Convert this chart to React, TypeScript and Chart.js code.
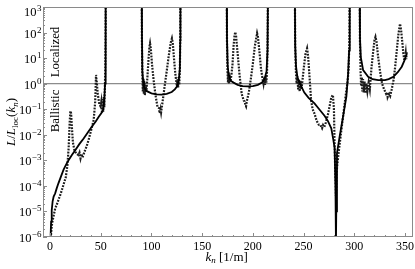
import React, { useEffect, useRef } from 'react';
import { Chart, registerables } from 'chart.js';
Chart.register(...registerables);

const X_MIN = -7;
const X_MAX = 358;
const Y_MIN = 1e-6;
const Y_MAX = 1e3;
const xTickValues = [0, 50, 100, 150, 200, 250, 300, 350];
const yTickExponents = [-6, -5, -4, -3, -2, -1, 0, 1, 2, 3];
const referenceLevel = 1;

// Solid curve: k_n [1/m] and L/L_loc (null = off-scale gap)
const kSolid = [
  0.3, 0.6, 1.0, 1.6, 2.5, 3.5, 5, 6.5, 8.2, 10.5, 13.2, 15.5, 18.2, 21.5, 24.8, 29, 33.1, 37, 41.3, 45, 48, 50.5, 52.3, 53.5, 54.2, 54.6, 54.8, 55.0,
  72,
  90.3, 90.6, 91, 91.8, 92.6, 95, 100, 105, 110, 115, 120, 123, 125.5, 127, 128, 128.4, 128.6,
  150,
  174.2, 174.5, 175.2, 176, 178, 181, 185, 190, 195, 200, 205, 209, 211.5, 213.5, 214.5, 215,
  228,
  241.4, 241.8, 242.6, 244, 245.9, 248, 250.8, 255, 260.8, 265.5, 270.7, 274, 277.4, 279.5, 280.7, 281.5, 282, 282.3, 283, 285.6, 289, 292.3, 294, 295, 295.6,
  300,
  305.3, 305.7, 306.5, 308.8, 313.8, 318, 323.7, 330.3, 334, 338.6, 343, 346.9, 349.5, 351.8,
];
const lSolid = [
  5e-7, 1.4e-6, 4e-6, 1.1e-5, 2.5e-5, 3.8e-5, 5.1e-5, 8e-5, 1.26e-4, 2.2e-4, 4.2e-4, 6.5e-4, 1e-3, 1.6e-3, 2.5e-3, 4.4e-3, 7.2e-3, 1.2e-2, 2.1e-2, 3.3e-2, 5.1e-2, 7e-2, 9.3e-2, 0.25, 1, 10, 200, 1e4,
  null,
  1e4, 100, 3.2, 1.3, 0.74, 0.52, 0.42, 0.38, 0.37, 0.4, 0.47, 0.6, 0.8, 1.4, 4, 50, 1e4,
  null,
  1e4, 60, 5, 2.5, 1.3, 1.1, 0.9, 0.8, 0.78, 0.8, 0.9, 1.1, 1.5, 3, 20, 1e4,
  null,
  1e4, 30, 4.7, 1.8, 1.1, 0.75, 0.45, 0.28, 0.17, 0.1, 0.056, 0.035, 0.018, 6e-3, 3e-3, 1e-4, 5e-7, 1e-5, 1.9e-3, 8.5e-3, 5.1e-2, 0.32, 2.5, 20, 1e4,
  null,
  1e4, 60, 11, 3.4, 1.86, 1.5, 1.38, 1.38, 1.5, 1.86, 2.8, 4.6, 8, 15,
];

// Dotted curve
const kDotted = [
  0.3, 1.0, 2.0, 3.3, 5, 6.5, 8.2, 10.5, 13.2, 15.5, 17, 18.3, 19.3, 20, 20.7, 21.5, 22.5, 24, 26, 28, 29, 30, 31, 32, 34, 36, 38, 40.5, 43, 44.5, 45.3, 46, 47, 48.5, 49.7, 50.5, 51.2, 51.8, 52.4, 53, 53.5, 54, 54.5, 54.8, 55,
  72,
  90.3, 90.6, 91, 91.5, 92, 92.5, 93, 93.5, 94.2, 95, 96, 97, 98, 98.6, 99.3, 100.5, 102, 104, 106, 107.5, 108, 108.5, 109, 109.5, 111, 113, 115, 117, 119, 120.2, 121, 122.2, 123.5, 124.5, 125.1, 125.7, 126.3, 126.8, 127.4, 128, 128.4, 128.6,
  150,
  174.2, 174.5, 175, 175.5, 176, 176.6, 177.3, 178, 179, 180, 181, 182, 182.7, 183.5, 185, 187, 189, 191, 192, 192.6, 193.3, 194, 196, 198, 200, 202, 204.2, 205, 206.5, 208, 209.5, 210.5, 211.3, 212, 212.7, 213.3, 214, 214.5, 215,
  228,
  241.4, 241.8, 242.5, 243.2, 244, 244.7, 245.4, 246.2, 247, 248, 249.3, 250.5, 252, 253.5, 254.5, 255.7, 257.5, 259, 260.8, 263, 265, 266.5, 267.4, 268.3, 269.3, 270.5, 272, 274, 276, 277.5, 279, 280, 280.7, 281.5, 282, 282.6, 283.2, 284.2, 285.7, 287.3, 289, 290.6, 292, 293.5, 294.5, 295.2, 295.6,
  300,
  305.3, 305.7, 306.3, 306.8, 307.4, 308, 308.7, 309.4, 310.2, 311, 312, 313, 314.2, 315.4, 317, 318.5, 320, 321, 322, 323.5, 325.5, 327.5, 329.5, 331.5, 332.5, 333, 333.7, 334.5, 335.5, 337, 339, 340.5, 342, 343.5, 345.2, 346.3, 347.5, 348.5, 349.5, 350.2, 350.8, 351.3, 351.8,
];
const lDotted = [
  3e-7, 1.5e-6, 3.5e-6, 6.3e-6, 1.3e-5, 1.8e-5, 2.8e-5, 5e-5, 1.1e-4, 2.2e-4, 6e-4, 3e-3, 0.03, 0.085, 0.07, 0.02, 5e-3, 2.5e-3, 1.8e-3, 1.6e-3, 2e-3, 1.2e-3, 1.8e-3, 1.3e-3, 2.2e-3, 3.5e-3, 6.3e-3, 0.015, 0.038, 0.2, 2.2, 1.2, 0.4, 0.16, 0.13, 0.2, 0.07, 0.25, 0.08, 0.3, 0.12, 0.6, 5, 200, 1e4,
  null,
  1e4, 50, 2, 0.5, 1.6, 0.4, 1.2, 0.35, 0.9, 0.5, 1.8, 8, 28, 38, 25, 6, 1.5, 0.35, 0.12, 0.11, 0.07, 0.08, 0.1, 0.075, 0.2, 0.8, 3, 12, 40, 59, 40, 10, 2.5, 1.2, 0.8, 1.5, 0.7, 1.8, 0.9, 3, 50, 1e4,
  null,
  1e4, 50, 3, 1.1, 2.8, 1.0, 2.2, 1.2, 2.5, 6, 30, 80, 105, 70, 15, 2, 0.4, 0.22, 0.2, 0.15, 0.13, 0.2, 0.45, 1.5, 6, 30, 95, 70, 18, 4, 1.6, 1.0, 1.8, 0.9, 2.0, 1.1, 3, 20, 1e4,
  null,
  1e4, 30, 3, 1.0, 1.9, 0.6, 1.5, 0.5, 1.3, 0.6, 1.8, 5, 15, 24, 12, 2.5, 0.22, 0.1, 0.068, 0.035, 0.025, 0.025, 0.021, 0.018, 0.024, 0.02, 0.03, 0.06, 0.15, 0.3, 0.36, 0.1, 3.4e-3, 2e-4, 4e-5, 3e-4, 6e-4, 1.4e-3, 4.5e-3, 0.015, 0.05, 0.17, 0.45, 1.2, 4, 40, 1e4,
  null,
  1e4, 40, 3, 0.8, 1.8, 0.5, 1.5, 0.45, 1.2, 0.42, 1.0, 0.5, 1.1, 0.6, 4, 15, 50, 68, 45, 12, 3, 1.0, 0.6, 0.4, 0.45, 0.3, 0.35, 0.4, 0.33, 0.6, 1.5, 5, 20, 80, 220, 120, 40, 15, 8, 11, 16, 9, 18,
];

const SERIF = '"Liberation Serif", "Times New Roman", serif';
const font = (size: number, italic = false) => `${italic ? 'italic ' : ''}${size}px ${SERIF}`;

type Seg = { t: string; size: number; italic?: boolean; dy?: number };

function drawSegs(ctx: CanvasRenderingContext2D, segs: Seg[], cx: number, baseline: number) {
  let total = 0;
  for (const s of segs) {
    ctx.font = font(s.size, s.italic);
    total += ctx.measureText(s.t).width;
  }
  let x = cx - total / 2;
  ctx.textAlign = 'left';
  ctx.textBaseline = 'alphabetic';
  for (const s of segs) {
    ctx.font = font(s.size, s.italic);
    ctx.fillText(s.t, x, baseline + (s.dy || 0));
    x += ctx.measureText(s.t).width;
  }
}

const decor = {
  id: 'decor',
  afterDraw(chart: any) {
    const { ctx, chartArea } = chart;
    const { left, right, top, bottom } = chartArea;
    const xs = chart.scales.x;
    const ys = chart.scales.y;
    ctx.save();
    // frame
    ctx.strokeStyle = '#8a8a8a';
    ctx.lineWidth = 1;
    ctx.strokeRect(Math.round(left) + 0.5, Math.round(top) + 0.5, Math.round(right - left) - 1, Math.round(bottom - top) - 1);
    // x ticks (inward)
    ctx.beginPath();
    for (let v = 0; v <= 350; v += 10) {
      const px = Math.round(xs.getPixelForValue(v)) + 0.5;
      const len = v % 50 === 0 ? 4 : 2;
      ctx.moveTo(px, bottom);
      ctx.lineTo(px, bottom - len);
    }
    // y ticks (inward)
    for (const e of yTickExponents) {
      const py = Math.round(ys.getPixelForValue(Math.pow(10, e))) + 0.5;
      ctx.moveTo(left, py);
      ctx.lineTo(left + 4, py);
      if (e < 3) {
        for (let m = 2; m <= 9; m++) {
          const pm = Math.round(ys.getPixelForValue(m * Math.pow(10, e))) + 0.5;
          ctx.moveTo(left, pm);
          ctx.lineTo(left + 2, pm);
        }
      }
    }
    ctx.stroke();

    ctx.fillStyle = '#000';
    // x tick labels
    ctx.font = font(12);
    ctx.textAlign = 'center';
    ctx.textBaseline = 'alphabetic';
    for (const v of xTickValues) {
      ctx.fillText(String(v), xs.getPixelForValue(v), 249.5);
    }
    // y tick labels 10^e
    const rightEdge = left - 1.6;
    for (const e of yTickExponents) {
      const py = ys.getPixelForValue(Math.pow(10, e));
      const base = Math.max(py + 5, 16.3);
      const sup = e < 0 ? '\u2212' + Math.abs(e) : String(e);
      ctx.font = font(9);
      const w2 = ctx.measureText(sup).width;
      ctx.textAlign = 'left';
      ctx.fillText(sup, rightEdge - w2, base - 5);
      ctx.font = font(12.5);
      const w1 = ctx.measureText('10').width;
      ctx.fillText('10', rightEdge - w2 - w1 - 0.3, base);
    }
    // x title
    drawSegs(ctx, [
      { t: 'k', size: 13, italic: true },
      { t: 'n', size: 9, italic: true, dy: 2.5 },
      { t: ' [1/m]', size: 13 },
    ], 226.7, 260.5);
    // y title (rotated)
    ctx.save();
    ctx.translate(15, 122);
    ctx.rotate(-Math.PI / 2);
    drawSegs(ctx, [
      { t: 'L', size: 13, italic: true },
      { t: '/', size: 13 },
      { t: 'L', size: 13, italic: true },
      { t: 'loc', size: 9, dy: 2.5 },
      { t: '(', size: 13 },
      { t: 'k', size: 13, italic: true },
      { t: 'n', size: 9, italic: true, dy: 2.5 },
      { t: ')', size: 13 },
    ], 0, 0);
    ctx.restore();
    // region annotations
    for (const [label, cy] of [['Localized', 52], ['Ballistic', 111]] as [string, number][]) {
      ctx.save();
      ctx.translate(59, cy);
      ctx.rotate(-Math.PI / 2);
      ctx.font = font(12.8);
      ctx.textAlign = 'center';
      ctx.textBaseline = 'alphabetic';
      ctx.fillText(label, 0, 0);
      ctx.restore();
    }
    ctx.restore();
  },
};

export default function App() {
  const ref = useRef<HTMLCanvasElement>(null);
  useEffect(() => {
    const toPts = (k: number[], v: (number | null)[]) => k.map((x, i) => ({ x, y: v[i] }));
    const chart = new Chart(ref.current as HTMLCanvasElement, {
      type: 'line',
      data: {
        datasets: [
          {
            data: toPts(kSolid, lSolid) as any,
            borderColor: '#000',
            borderWidth: 1.8,
            pointRadius: 0,
            tension: 0,
            spanGaps: false,
            order: 1,
          },
          {
            data: toPts(kDotted, lDotted) as any,
            borderColor: '#1c1c1c',
            borderWidth: 2.2,
            borderDash: [1.8, 1.3],
            pointRadius: 0,
            tension: 0,
            spanGaps: false,
            order: 2,
          },
          {
            data: [{ x: X_MIN, y: referenceLevel }, { x: X_MAX, y: referenceLevel }] as any,
            borderColor: '#8c8c8c',
            borderWidth: 1.3,
            pointRadius: 0,
            order: 3,
          },
        ],
      },
      options: {
        animation: false,
        responsive: false,
        events: [],
        layout: { padding: { left: 0, top: 7, right: 2, bottom: 0 } },
        plugins: { legend: { display: false }, tooltip: { enabled: false } },
        scales: {
          x: {
            type: 'linear',
            min: X_MIN,
            max: X_MAX,
            grid: { display: false },
            border: { display: false },
            ticks: { display: false },
            afterFit: (s: any) => { s.height = 32; },
          },
          y: {
            type: 'logarithmic',
            min: Y_MIN,
            max: Y_MAX,
            grid: { display: false },
            border: { display: false },
            ticks: { display: false },
            afterFit: (s: any) => { s.width = 43; },
          },
        },
      },
      plugins: [decor],
    });
    return () => chart.destroy();
  }, []);
  return (
    <div style={{ position: 'absolute', left: 0, top: 0, width: 415, height: 269 }}>
      <canvas ref={ref} width={415} height={269} style={{ display: 'block' }} />
    </div>
  );
}
